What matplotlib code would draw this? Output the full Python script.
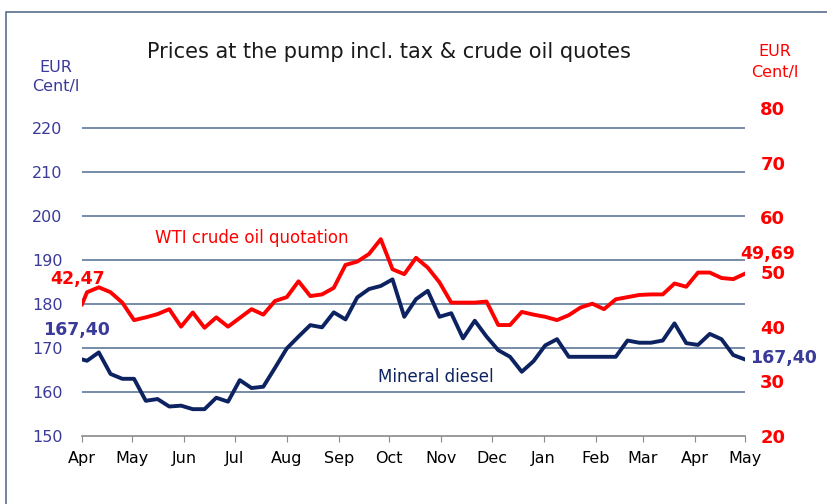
import numpy as np
import pandas as pd
import matplotlib
matplotlib.use("Agg")
import matplotlib.pyplot as plt
from matplotlib.patches import Rectangle

# weekly quotes (first point = start of month, then weekly)
dates = [pd.Timestamp("2017-04-01")] + list(pd.date_range("2017-04-04", periods=57, freq="7D"))

diesel = [167.4, 167.1, 169.0, 164.1, 163.0, 163.0, 158.0, 158.4, 156.7, 156.9,
          156.1, 156.1, 158.7, 157.8, 162.7, 160.9, 161.2, 165.5, 169.9, 172.6,
          175.2, 174.7, 178.1, 176.5, 181.5, 183.4, 184.1, 185.6, 177.1, 181.1,
          183.0, 177.1, 177.9, 172.2, 176.2, 172.6, 169.5, 168.0, 164.6, 167.0,
          170.6, 172.0, 168.0, 168.0, 168.0, 168.0, 168.0, 171.7, 171.2, 171.2,
          171.7, 175.6, 171.1, 170.7, 173.2, 172.0, 168.4, 167.4]

wti = [44.1, 46.3, 47.2, 46.3, 44.4, 41.2, 41.7, 42.3, 43.2, 40.0,
       42.6, 39.8, 41.7, 40.0, 41.6, 43.2, 42.2, 44.7, 45.4, 48.3,
       45.6, 45.9, 47.1, 51.3, 51.9, 53.3, 56.0, 50.5, 49.6, 52.6,
       50.8, 48.1, 44.4, 44.4, 44.4, 44.6, 40.3, 40.3, 42.7, 42.2,
       41.8, 41.2, 42.1, 43.5, 44.2, 43.2, 45.0, 45.4, 45.8, 45.9,
       45.9, 47.9, 47.3, 49.9, 49.9, 48.9, 48.7, 49.7]

month_labels = ["Apr", "May", "Jun", "Jul", "Aug", "Sep", "Oct", "Nov",
                "Dec", "Jan", "Feb", "Mar", "Apr", "May"]
month_ticks = pd.date_range("2017-04-01", "2018-05-01", freq="MS")

left_ticks = [150, 160, 170, 180, 190, 200, 210, 220]
right_ticks = [20, 30, 40, 50, 60, 70, 80]

navy = "#0d2361"
purple = "#3a3a9a"
red = "#ff0000"
grid_col = "#6b82a0"

fig = plt.figure(figsize=(8.28, 5.04), dpi=100)
fig.patches.append(Rectangle((6 / 828, -0.1), 1.2, 1 - 12 / 504 + 0.1,
                             transform=fig.transFigure, fill=False,
                             edgecolor="#5a6e8c", linewidth=1.2))

ax = fig.add_axes([82 / 828, 1 - 436 / 504, 663 / 828, 328 / 504])
ax2 = ax.twinx()

ax.set_ylim(150, 150 + 328 / 4.4)
ax.set_yticks(left_ticks)
ax.set_xlim(month_ticks[0], month_ticks[-1])
ax.set_xticks(month_ticks)
ax.set_xticklabels(month_labels, fontsize=11.5)
for y in left_ticks[1:]:
    ax.axhline(y, color=grid_col, linewidth=1.3, zorder=1)

ax.plot(dates, diesel, color=navy, linewidth=2.8, solid_joinstyle="round", zorder=3)

ax2.set_ylim(20, 80)
ax2.set_yticks(right_ticks)
ax2.plot(dates, wti, color=red, linewidth=2.8, solid_joinstyle="round", zorder=3)

for a in (ax, ax2):
    for s in ("top", "left", "right"):
        a.spines[s].set_visible(False)
ax.spines["bottom"].set_color("#8a8a8a")
ax.spines["bottom"].set_linewidth(1.2)
ax2.spines["bottom"].set_visible(False)

ax.tick_params(axis="x", length=4, color="#8a8a8a", pad=7)
ax.tick_params(axis="y", length=0, pad=14, labelsize=11.5, labelcolor=purple)
ax2.tick_params(axis="y", length=0, pad=11, labelsize=13, labelcolor=red)
for lbl in ax2.get_yticklabels():
    lbl.set_fontweight("bold")

# end-point labels
ax2.annotate("42,47", xy=(dates[0], wti[0]), xytext=(-3, 18), textcoords="offset points",
             ha="center", va="center", color=red, fontsize=12.5, fontweight="bold")
ax.annotate("167,40", xy=(dates[0], diesel[0]), xytext=(-4, 21), textcoords="offset points",
            ha="center", va="center", color=purple, fontsize=12.5, fontweight="bold")
ax.annotate("167,40", xy=(dates[-1], diesel[-1]), xytext=(4, 1), textcoords="offset points",
            ha="left", va="center", color=purple, fontsize=12.5, fontweight="bold")
ax2.annotate("49,69", xy=(dates[-1], wti[-1]), xytext=(16, 14), textcoords="offset points",
             ha="center", va="center", color=red, fontsize=12.5, fontweight="bold")

ax.text(0.256, 0.604, "WTI crude oil quotation", transform=ax.transAxes,
        ha="center", va="center", color=red, fontsize=12)
ax.text(0.534, 0.180, "Mineral diesel", transform=ax.transAxes,
        ha="center", va="center", color=navy, fontsize=12)

fig.text(0.47, 0.897, "Prices at the pump incl. tax & crude oil quotes",
         ha="center", va="center", fontsize=15, color="#1a1a1a")
fig.text(56 / 828, 1 - 68 / 504, "EUR", ha="center", va="center", color=purple, fontsize=11.5)
fig.text(56 / 828, 1 - 87 / 504, "Cent/l", ha="center", va="center", color=purple, fontsize=11.5)
fig.text(775 / 828, 1 - 51 / 504, "EUR", ha="center", va="center", color=red, fontsize=11.5)
fig.text(775 / 828, 1 - 73 / 504, "Cent/l", ha="center", va="center", color=red, fontsize=11.5)

fig.savefig("out.png", dpi=100)
